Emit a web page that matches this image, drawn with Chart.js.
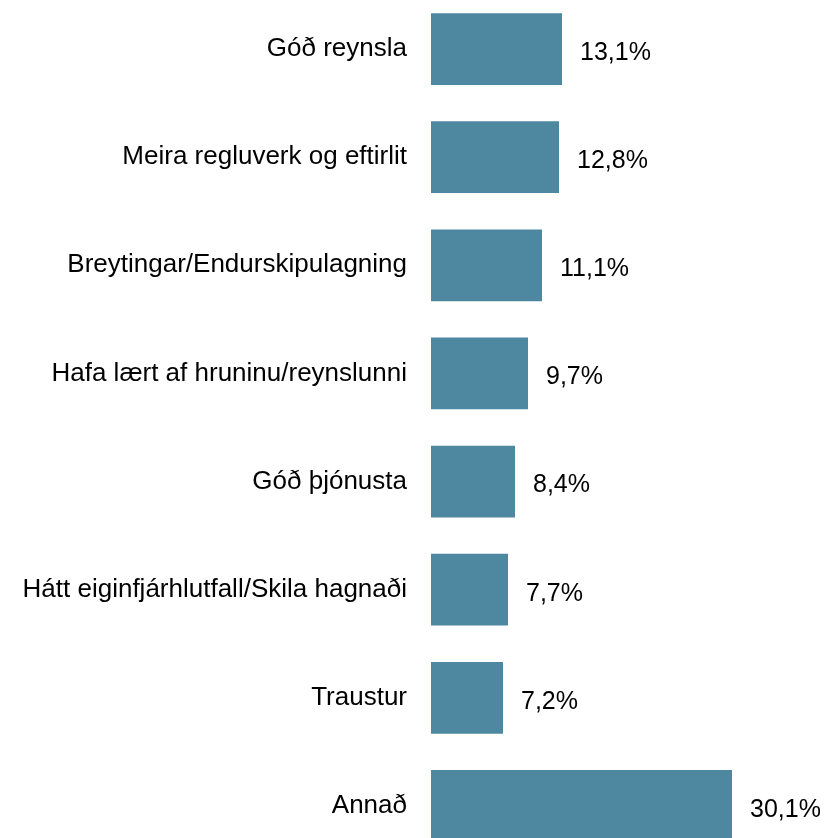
<!DOCTYPE html>
<html>
<head>
<meta charset="utf-8">
<script src="https://cdn.jsdelivr.net/npm/chart.js@4.4.1/dist/chart.umd.min.js"></script>
<style>
    html, body { margin: 0; padding: 0; background: #fff; overflow: hidden; }
    #wrap { position: absolute; left: 0; top: -5px; width: 827px; height: 865px; }
</style>
</head>
<body>
<div id="wrap"><canvas id="chart"></canvas></div>
<script>
const categories = [
    'Góð reynsla',
    'Meira regluverk og eftirlit',
    'Breytingar/Endurskipulagning',
    'Hafa lært af hruninu/reynslunni',
    'Góð þjónusta',
    'Hátt eiginfjárhlutfall/Skila hagnaði',
    'Traustur',
    'Annað'
];
const values = [13.1, 12.8, 11.1, 9.7, 8.4, 7.7, 7.2, 30.1];

const FONT = '"Liberation Sans", Arial, sans-serif';

// teikna gildin hægra megin við hverja súlu
const valueLabels = {
    id: 'valueLabels',
    afterDatasetsDraw(chart) {
        const ctx = chart.ctx;
        const meta = chart.getDatasetMeta(0);
        ctx.save();
        ctx.font = '25px ' + FONT;
        ctx.fillStyle = '#000';
        ctx.textAlign = 'left';
        ctx.textBaseline = 'middle';
        meta.data.forEach((bar, i) => {
            const txt = values[i].toFixed(1).replace('.', ',') + '%';
            ctx.fillText(txt, bar.x + 18, bar.y + 4);
        });
        ctx.restore();
    }
};

new Chart(document.getElementById('chart'), {
    type: 'bar',
    data: {
        labels: categories,
        datasets: [{
            data: values,
            backgroundColor: '#4e87a0',
            borderWidth: 0,
            barPercentage: 0.663,
            categoryPercentage: 1
        }]
    },
    options: {
        indexAxis: 'y',
        responsive: true,
        maintainAspectRatio: false,
        animation: false,
        layout: { padding: 0 },
        plugins: {
            legend: { display: false },
            tooltip: { enabled: false }
        },
        scales: {
            x: {
                display: false,
                min: 0,
                max: 39.6
            },
            y: {
                grid: { display: false, drawTicks: false },
                border: { display: false },
                ticks: {
                    color: '#000',
                    padding: 24,
                    font: { family: FONT, size: 26 }
                },
                afterFit(scale) {
                    scale.width = 431;
                    scale.paddingTop = 0;
                    scale.paddingBottom = 0;
                }
            }
        }
    },
    plugins: [valueLabels]
});
</script>
</body>
</html>
